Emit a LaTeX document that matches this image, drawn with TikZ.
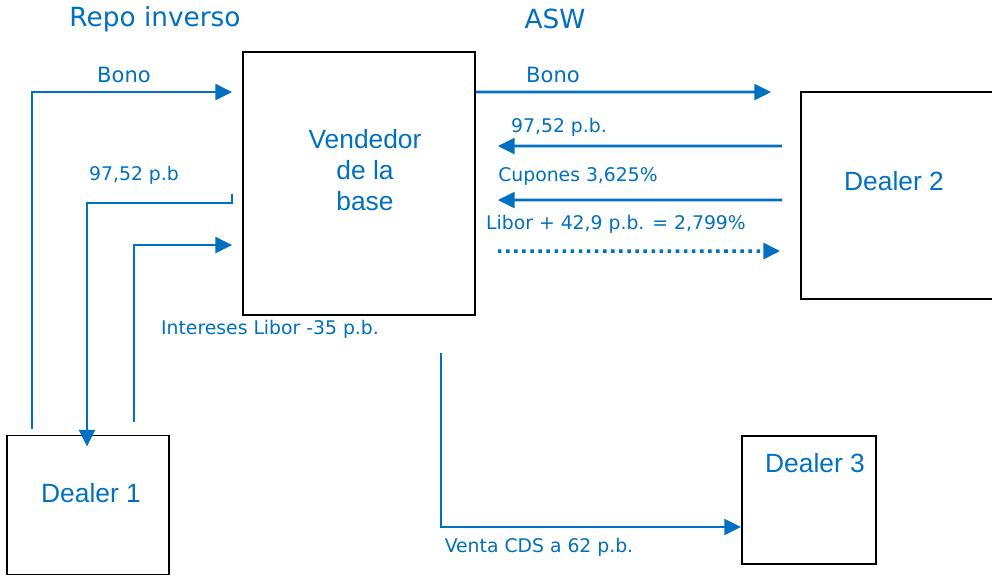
\documentclass[tikz,border=0pt]{standalone}
\usepackage{fontspec}
\setmainfont{DejaVu Sans}
\newfontfamily\cajafont{Liberation Sans}
\usepackage{xcolor}
\usepackage{tikz}
\usetikzlibrary{calc}
\usetikzlibrary{arrows.meta}
\usetikzlibrary{positioning}
\definecolor{azul}{RGB}{0,112,192}
\tikzstyle{caja}     = [rectangle, draw=black, line width=1.1pt, inner sep=0pt]
\tikzstyle{flecha}   = [draw=azul, line width=1.5pt, -{Triangle[length=9.5pt,width=9pt]}]
\tikzstyle{puntos}   = [draw=azul, line width=2pt, dash pattern=on 2pt off 2.6pt, -{Triangle[length=9.5pt,width=9pt]}]
\tikzstyle{etiqueta} = [text=azul, font=\fontsize{10.7}{12}\selectfont, inner sep=0pt]
\tikzstyle{titulo}   = [text=azul, font=\fontsize{15}{18}\selectfont, inner sep=0pt]
\tikzstyle{nombre}   = [text=azul, font=\cajafont\fontsize{15}{17.5}\selectfont, align=center, inner sep=0pt]

\begin{document}
\begin{tikzpicture}[x=0.02cm, y=-0.02cm]
        \useasboundingbox (0,0) rectangle (992,576);
        % cajas
        \node [caja, minimum width=4.64cm, minimum height=5.26cm] (vend) at (359,183.5) {};
        \node [nombre] (vendt) at (365,170) {Vendedor\\de la\\base};
        \node [caja, minimum width=3.24cm, minimum height=2.78cm] (d1) at (88,505) {};
        \node [nombre] (d1t) at (91,493) {Dealer 1};
        \node [caja, minimum width=4.2cm, minimum height=4.14cm] (d2) at (906,195.5) {};
        \node [nombre] (d2t) at (894,181) {Dealer 2};
        \node [caja, minimum width=2.68cm, minimum height=2.56cm] (d3) at (809,500) {};
        \node [nombre] (d3t) at (815,463) {Dealer 3};
		\node [titulo] (rep) at (155,19) {Repo inverso};
		\node [titulo] (asw) at (555,19) {ASW};

        % repo inverso
        \coordinate (bonoA) at ($(d1.north west)+(26,-6)$);
        \coordinate (bonoB) at ($(vend.north west)+(-10,41)$);
        \path [flecha] (bonoA) |- (bonoB);
        \coordinate (pagoA) at ($(vend.north west)+(-10,143)$);
        \coordinate (pagoB) at ($(d1.north)+(-1,12)$);
        \path [flecha] (pagoA) -- ++(0,9) -| (pagoB);
        \coordinate (intA) at ($(d1.north west)+(128,-13)$);
        \coordinate (intB) at ($(vend.north west)+(-10,194)$);
        \path [flecha] (intA) |- (intB);
        \node [etiqueta, font=\fontsize{12}{14}\selectfont] (l1) at (124,75) {Bono};
        \node [etiqueta] (l2) at (134,175) {97,52 p.b};
        \node [etiqueta] (l3) at (270,329) {Intereses Libor -35 p.b.};

        % ASW
        \coordinate (aswA) at ($(vend.north east)+(0,41)$);
        \coordinate (aswB) at ($(d2.north west)+(-29,1)$);
        \path [flecha] (aswA) -- (aswB);
        \coordinate (precA) at ($(d2.north west)+(-18,55)$);
        \coordinate (precB) at ($(vend.north east)+(22,95)$);
        \path [flecha] (precA) -- (precB);
        \coordinate (cupA) at ($(d2.north west)+(-18,109)$);
        \coordinate (cupB) at ($(vend.north east)+(22,149)$);
        \path [flecha] (cupA) -- (cupB);
        \coordinate (libA) at ($(vend.north east)+(22,200)$);
        \coordinate (libB) at ($(d2.north west)+(-20,160)$);
        \path [puntos] (libA) -- (libB);
        \node [etiqueta, font=\fontsize{12}{14}\selectfont] (l4) at (553,75) {Bono};
        \node [etiqueta] (l5) at (559,127) {97,52 p.b.};
        \node [etiqueta] (l6) at (578,176) {Cupones 3,625\%};
        \node [etiqueta] (l7) at (616,224) {Libor + 42,9 p.b. = 2,799\%};

        % CDS
        \coordinate (cdsA) at ($(vend.south east)+(-35,37)$);
        \coordinate (cdsB) at ($(d3.west)+(0,27)$);
        \path [flecha] (cdsA) |- (cdsB);
        \node [etiqueta] (l8) at (539,547) {Venta CDS a 62 p.b.};
    \end{tikzpicture}
\end{document}
